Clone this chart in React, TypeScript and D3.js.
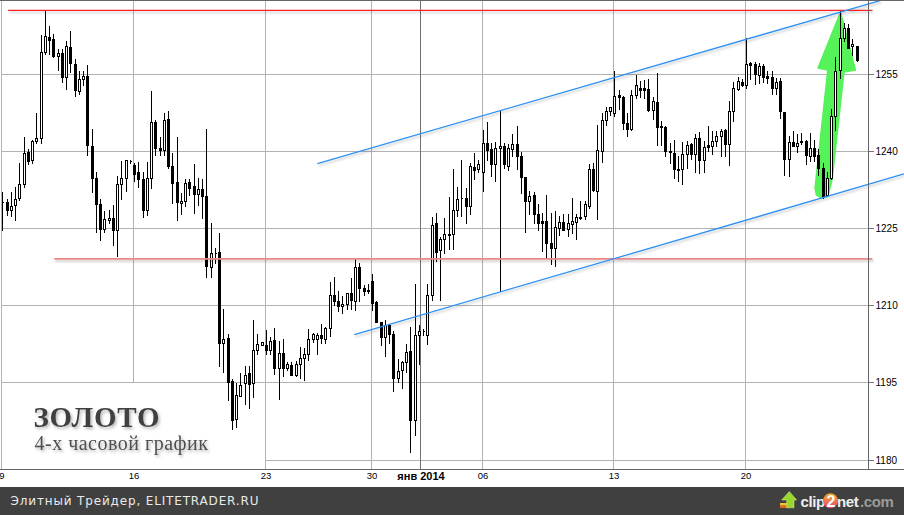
import React, { useEffect, useRef } from 'react';
import * as d3 from 'd3';

const W = 904;
const H = 515;

// gold, 4h candles
const highs = [
  1232.0, 1230.6, 1232.0, 1233.0, 1237.7, 1242.6, 1240.3, 1242.2, 1247.4, 1262.6,
  1267.3, 1264.3, 1262.8, 1259.7, 1259.7, 1261.3, 1263.2, 1257.9, 1255.6, 1255.6,
  1256.6, 1244.3, 1235.8, 1230.6, 1228.4, 1228.6, 1229.4, 1235.1, 1238.1, 1238.2,
  1238.3, 1237.7, 1237.8, 1235.8, 1237.8, 1251.7, 1245.9, 1242.6, 1247.3, 1247.7,
  1239.5, 1242.6, 1231.9, 1234.6, 1234.6, 1237.4, 1234.8, 1234.5, 1244.2, 1226.0,
  1221.1, 1224.0, 1209.3, 1204.5, 1195.6, 1194.8, 1196.8, 1198.1, 1198.2, 1207.1,
  1204.5, 1202.9, 1205.1, 1203.8, 1205.6, 1203.0, 1203.5, 1199.0, 1199.0, 1199.2,
  1201.9, 1201.6, 1205.4, 1204.7, 1204.7, 1206.3, 1205.8, 1214.6, 1215.5, 1212.8,
  1211.8, 1212.4, 1215.2, 1219.0, 1218.3, 1213.9, 1214.1, 1216.0, 1210.8, 1206.7,
  1207.1, 1206.3, 1205.0, 1199.5, 1199.2, 1202.5, 1205.8, 1214.1, 1206.1, 1205.4,
  1214.2, 1227.2, 1228.0, 1223.3, 1226.9, 1231.0, 1236.4, 1233.0, 1238.3, 1232.8,
  1237.7, 1239.6, 1238.3, 1244.0, 1245.7, 1241.6, 1241.8, 1247.9, 1241.6, 1241.3,
  1243.3, 1244.8, 1239.8, 1235.0, 1232.2, 1232.0, 1229.6, 1228.0, 1231.4, 1228.0,
  1228.4, 1227.3, 1227.7, 1227.7, 1230.9, 1227.8, 1230.3, 1230.3, 1237.5, 1237.7,
  1245.1, 1247.4, 1248.6, 1248.6, 1255.5, 1251.9, 1250.7, 1247.4, 1251.9, 1254.7,
  1253.6, 1253.7, 1253.9, 1250.5, 1255.1, 1245.8, 1244.8, 1241.6, 1242.2, 1239.0,
  1241.7, 1241.9, 1241.6, 1243.2, 1243.7, 1241.9, 1244.9, 1243.8, 1243.8, 1244.3,
  1244.2, 1249.7, 1253.4, 1254.3, 1253.9, 1262.0, 1257.3, 1257.3, 1257.1, 1256.8,
  1255.5, 1255.6, 1254.2, 1254.2, 1247.6, 1242.9, 1243.8, 1243.3, 1243.5, 1242.1,
  1243.5, 1242.2, 1240.3, 1237.7, 1235.8, 1248.1, 1258.3, 1267.2, 1264.9, 1264.6,
  1261.8, 1260.4,
];

const lows = [
  1224.6, 1227.5, 1227.3, 1226.6, 1230.4, 1232.9, 1237.5, 1237.7, 1241.6, 1241.5,
  1258.8, 1258.8, 1258.2, 1255.8, 1253.4, 1252.0, 1255.3, 1250.7, 1251.1, 1252.8,
  1239.2, 1232.0, 1224.2, 1222.7, 1224.2, 1225.9, 1221.8, 1219.6, 1230.6, 1232.2,
  1237.6, 1234.1, 1233.0, 1227.1, 1227.5, 1232.7, 1239.1, 1239.1, 1239.1, 1236.7,
  1229.8, 1226.6, 1227.7, 1229.3, 1231.4, 1227.9, 1229.4, 1226.9, 1215.4, 1215.4,
  1218.3, 1198.1, 1197.0, 1191.6, 1185.9, 1186.4, 1192.4, 1190.9, 1190.1, 1192.2,
  1200.5, 1202.2, 1200.5, 1200.5, 1196.6, 1191.7, 1196.2, 1197.4, 1196.4, 1196.2,
  1195.9, 1195.5, 1199.3, 1202.9, 1200.5, 1202.6, 1202.6, 1204.1, 1210.0, 1208.9,
  1208.4, 1209.2, 1209.2, 1209.0, 1210.9, 1211.9, 1212.4, 1209.1, 1206.7, 1202.2,
  1200.1, 1202.6, 1193.3, 1195.1, 1193.9, 1197.0, 1181.5, 1184.8, 1198.5, 1204.3,
  1202.4, 1211.1, 1218.6, 1211.0, 1220.1, 1220.9, 1220.9, 1227.3, 1227.3, 1226.0,
  1227.7, 1234.5, 1235.9, 1232.2, 1238.3, 1235.1, 1234.1, 1212.8, 1236.7, 1236.3,
  1239.0, 1236.4, 1231.9, 1224.2, 1227.7, 1225.9, 1224.6, 1220.5, 1219.4, 1218.1,
  1217.6, 1223.6, 1224.6, 1223.4, 1224.1, 1222.9, 1226.8, 1226.8, 1228.9, 1232.2,
  1226.7, 1237.8, 1245.0, 1246.9, 1246.8, 1248.2, 1244.2, 1242.9, 1244.0, 1250.3,
  1250.5, 1250.2, 1247.7, 1246.1, 1241.1, 1241.1, 1239.0, 1237.7, 1234.8, 1234.1,
  1233.5, 1236.7, 1238.5, 1235.8, 1235.6, 1235.9, 1239.9, 1239.3, 1240.9, 1239.0,
  1239.0, 1237.3, 1245.8, 1251.9, 1252.6, 1252.3, 1253.9, 1252.9, 1253.1, 1253.4,
  1253.2, 1251.0, 1251.1, 1246.3, 1235.3, 1235.1, 1240.9, 1239.8, 1241.3, 1237.4,
  1238.0, 1238.0, 1235.4, 1230.8, 1231.2, 1234.5, 1244.0, 1254.1, 1261.3, 1259.9,
  1258.6, 1257.4,
];

const opens = [
  1230.1, 1230.1, 1228.5, 1229.5, 1230.8, 1233.6, 1239.8, 1238.2, 1241.9, 1242.4,
  1259.3, 1262.2, 1261.8, 1258.4, 1259.1, 1254.4, 1260.2, 1256.9, 1251.6, 1254.0,
  1254.6, 1241.0, 1234.8, 1229.7, 1224.8, 1226.6, 1227.0, 1224.7, 1233.6, 1234.7,
  1238.1, 1237.3, 1235.8, 1234.6, 1228.5, 1234.7, 1245.7, 1240.6, 1240.2, 1246.1,
  1237.1, 1234.0, 1229.9, 1230.3, 1233.9, 1233.1, 1231.6, 1232.5, 1231.3, 1217.5,
  1220.2, 1220.3, 1202.7, 1203.7, 1195.3, 1187.9, 1192.4, 1194.8, 1196.8, 1194.8,
  1201.3, 1202.2, 1202.3, 1201.3, 1203.2, 1197.8, 1200.8, 1197.8, 1198.3, 1196.5,
  1198.5, 1199.8, 1200.6, 1203.4, 1203.5, 1204.3, 1203.5, 1205.6, 1212.0, 1210.9,
  1209.9, 1210.2, 1212.3, 1210.9, 1217.5, 1213.4, 1213.0, 1214.8, 1210.7, 1206.7,
  1203.8, 1206.1, 1204.5, 1195.9, 1197.4, 1199.0, 1201.2, 1187.7, 1204.3, 1204.9,
  1204.2, 1211.9, 1225.9, 1220.7, 1222.9, 1223.9, 1223.9, 1228.6, 1230.9, 1230.9,
  1229.2, 1236.9, 1236.5, 1235.8, 1241.6, 1240.3, 1237.5, 1240.6, 1241.0, 1237.0,
  1240.4, 1241.4, 1239.0, 1235.0, 1230.3, 1231.4, 1227.7, 1226.3, 1226.3, 1222.0,
  1221.2, 1225.1, 1226.2, 1224.9, 1225.8, 1226.2, 1227.2, 1227.3, 1229.3, 1236.4,
  1232.2, 1240.0, 1246.0, 1247.7, 1247.3, 1250.8, 1250.5, 1245.5, 1244.2, 1250.9,
  1252.3, 1252.3, 1252.1, 1247.9, 1249.4, 1244.8, 1244.6, 1239.9, 1239.6, 1236.5,
  1236.5, 1239.3, 1241.3, 1239.3, 1242.4, 1238.2, 1241.1, 1240.9, 1242.0, 1242.8,
  1244.0, 1241.4, 1247.8, 1252.1, 1253.4, 1252.7, 1257.1, 1256.9, 1254.7, 1256.4,
  1254.5, 1254.4, 1252.3, 1253.5, 1247.6, 1238.5, 1241.7, 1240.9, 1242.0, 1242.0,
  1239.0, 1240.5, 1239.2, 1236.7, 1231.5, 1234.7, 1246.8, 1255.7, 1262.0, 1263.8,
  1260.4, 1260.4,
];

const closes = [
  1230.1, 1228.5, 1229.3, 1230.7, 1233.6, 1239.6, 1238.0, 1242.0, 1242.4, 1259.3,
  1262.4, 1261.5, 1258.4, 1259.1, 1254.4, 1260.4, 1257.1, 1251.8, 1254.0, 1254.6,
  1241.1, 1234.7, 1229.7, 1224.8, 1226.8, 1227.0, 1224.6, 1233.6, 1234.8, 1238.2,
  1238.1, 1235.5, 1234.5, 1228.6, 1234.7, 1245.7, 1240.6, 1240.2, 1245.9, 1237.0,
  1233.8, 1230.0, 1230.3, 1233.8, 1232.7, 1231.6, 1232.5, 1231.2, 1217.6, 1220.2,
  1220.1, 1202.7, 1203.5, 1195.1, 1187.8, 1192.5, 1194.6, 1196.5, 1194.7, 1201.4,
  1202.5, 1202.9, 1201.3, 1203.0, 1197.8, 1200.8, 1197.8, 1198.5, 1196.5, 1198.6,
  1199.8, 1200.6, 1203.5, 1204.5, 1204.3, 1203.6, 1205.6, 1212.0, 1210.8, 1209.9,
  1210.3, 1212.3, 1211.0, 1217.5, 1213.3, 1212.8, 1212.8, 1210.4, 1206.7, 1203.8,
  1206.1, 1204.4, 1195.9, 1197.3, 1198.9, 1201.0, 1187.7, 1204.3, 1204.9, 1204.9,
  1211.9, 1225.5, 1220.4, 1222.9, 1223.9, 1223.6, 1228.6, 1230.7, 1230.9, 1229.2,
  1237.1, 1236.3, 1237.5, 1241.6, 1240.2, 1237.4, 1240.6, 1241.0, 1237.4, 1240.6,
  1241.4, 1239.0, 1235.0, 1230.3, 1231.2, 1227.7, 1226.0, 1225.9, 1222.0, 1221.1,
  1225.3, 1226.2, 1224.7, 1225.9, 1226.4, 1227.2, 1226.9, 1229.6, 1236.4, 1232.3,
  1240.1, 1245.9, 1247.7, 1248.6, 1250.7, 1250.5, 1245.5, 1244.3, 1250.9, 1252.7,
  1251.8, 1251.8, 1247.9, 1249.6, 1244.7, 1244.6, 1240.0, 1239.8, 1236.5, 1236.3,
  1239.3, 1241.2, 1239.3, 1242.4, 1238.2, 1240.8, 1240.8, 1242.0, 1242.8, 1243.9,
  1241.3, 1247.8, 1252.3, 1253.6, 1252.8, 1256.9, 1256.7, 1254.9, 1256.4, 1254.4,
  1254.2, 1252.3, 1253.4, 1247.7, 1238.5, 1241.8, 1240.9, 1241.6, 1241.7, 1239.2,
  1240.5, 1239.0, 1236.7, 1231.2, 1234.8, 1246.8, 1255.6, 1262.0, 1263.8, 1260.0,
  1260.8, 1257.6,
];

const priceTicks = [1180, 1195, 1210, 1225, 1240, 1255];

// candle index of each date label
const dateTickIndex = [0, 31, 62, 87, 98.5, 113, 144, 175];
const dateTickLabel = ['9', '16', '23', '30', 'янв 2014', '06', '13', '20'];
const monthTick = 98.5;

// hand drawn lines: [candle index, price]
const redLines: [number, number][][] = [
  [[1.1, 1267.4], [204.5, 1267.4]],
  [[12.0, 1219.1], [204.5, 1219.1]],
];
const blueLines: [number, number][][] = [
  [[73.9, 1237.6], [206.3, 1269.3]],
  [[82.6, 1204.4], [211.9, 1235.6]],
];
const arrowOutline: [number, number][] = [
  [191.0, 1232.9], [191.3, 1231.6], [192.4, 1230.9], [194.0, 1231.2], [195.0, 1234.5],
  [197.8, 1255.4], [200.5, 1255.8], [197.0, 1267.0], [191.7, 1256.2], [194.0, 1255.8],
];

export default function App() {
  const svgRef = useRef<SVGSVGElement>(null);

  useEffect(() => {
    if (!svgRef.current) return;
    const svg = d3.select(svgRef.current);
    svg.selectAll('*').remove();

    const x = d3.scaleLinear().domain([0, 201]).range([2.8, 857.05]);
    const y = d3.scaleLinear().domain([1180, 1255]).range([460.15, 74.15]);
    const cx = (i: number) => Math.floor(x(i)) + 0.5;
    const py = (p: number) => Math.floor(y(p)) + 0.5;

    const defs = svg.append('defs');
    const filter = (id: string) =>
      defs.append('filter').attr('id', id)
        .attr('filterUnits', 'userSpaceOnUse')
        .attr('x', 0).attr('y', 0).attr('width', W).attr('height', H);
    filter('lineShadow').append('feDropShadow')
      .attr('dx', 1).attr('dy', 2).attr('stdDeviation', 1.2)
      .attr('flood-color', '#000').attr('flood-opacity', 0.22);
    filter('textShadow').append('feDropShadow')
      .attr('dx', 1.5).attr('dy', 2).attr('stdDeviation', 1.5)
      .attr('flood-color', '#000').attr('flood-opacity', 0.3);
    filter('softEdge').append('feGaussianBlur').attr('stdDeviation', 0.5);

    const coin = defs.append('linearGradient').attr('id', 'coin')
      .attr('x1', 0).attr('y1', 0).attr('x2', 0).attr('y2', 1);
    coin.append('stop').attr('offset', '0%').attr('stop-color', '#f5a81c');
    coin.append('stop').attr('offset', '100%').attr('stop-color', '#e8487a');

    svg.append('rect').attr('width', W).attr('height', H).attr('fill', '#fff');

    // grid
    const grid = svg.append('g').attr('shape-rendering', 'crispEdges');
    grid.selectAll('line.h').data(priceTicks).enter().append('line')
      .attr('class', 'h')
      .attr('x1', 1).attr('x2', 868)
      .attr('y1', d => py(d)).attr('y2', d => py(d))
      .attr('stroke', '#b2b2b2');
    grid.selectAll('line.v').data(dateTickIndex).enter().append('line')
      .attr('class', 'v')
      .attr('x1', d => cx(d) - 1).attr('x2', d => cx(d) - 1)
      .attr('y1', 1).attr('y2', 469)
      .attr('stroke', d => (d === monthTick ? '#707070' : '#b2b2b2'));

    // caption box hides the grid under the title
    svg.append('rect').attr('x', 2).attr('y', 383).attr('width', 263).attr('height', 86).attr('fill', '#fff');

    const lineGen = d3.line<[number, number]>().x(d => x(d[0]) + 0.5).y(d => y(d[1]));

    // green arrow sits under the candles
    svg.append('path')
      .attr('d', lineGen(arrowOutline) + 'Z')
      .attr('fill', '#55f25a')
      .attr('stroke', '#55f25a')
      .attr('stroke-width', 1.5)
      .attr('stroke-linejoin', 'round')
      .attr('filter', 'url(#softEdge)');

    // candles
    const idx = d3.range(highs.length);
    const candles = svg.append('g').attr('shape-rendering', 'crispEdges');
    candles.selectAll('line').data(idx).enter().append('line')
      .attr('x1', i => cx(i)).attr('x2', i => cx(i))
      .attr('y1', i => py(highs[i]) - 0.5).attr('y2', i => py(lows[i]) + 0.5)
      .attr('stroke', '#000');
    candles.selectAll('path').data(idx).enter().append('path')
      .attr('d', i => {
        const top = py(Math.max(opens[i], closes[i]));
        const bottom = py(Math.min(opens[i], closes[i]));
        const p = d3.path();
        p.rect(cx(i) - 1, top, 2, bottom - top);
        return p.toString();
      })
      .attr('fill', i => (closes[i] > opens[i] ? '#fff' : '#000'))
      .attr('stroke', '#000');

    // annotations
    const notes = svg.append('g').attr('fill', 'none').attr('filter', 'url(#lineShadow)');
    notes.selectAll('path.red').data(redLines).enter().append('path')
      .attr('class', 'red')
      .attr('d', d => lineGen(d))
      .attr('stroke', (_, i) => (i === 0 ? '#ff2020' : '#e98888'))
      .attr('stroke-width', (_, i) => (i === 0 ? 1.2 : 1.6));
    notes.selectAll('path.blue').data(blueLines).enter().append('path')
      .attr('class', 'blue')
      .attr('d', d => lineGen(d))
      .attr('stroke', '#2f90f2')
      .attr('stroke-width', 1.3);

    // frame + axes
    const axisFont = '"Liberation Sans", Arial, sans-serif';
    const yAxis = svg.append('g')
      .attr('transform', 'translate(868.5,0)')
      .call(d3.axisRight(y).tickValues(priceTicks).tickFormat(d3.format('d')).tickSize(5).tickPadding(2).offset(0));
    yAxis.selectAll('.tick').attr('transform', (d: any) => `translate(0,${py(d)})`);
    yAxis.selectAll('.domain').remove();
    yAxis.selectAll('line').attr('stroke', '#777').attr('shape-rendering', 'crispEdges');
    yAxis.selectAll('text')
      .attr('fill', '#000').attr('font-family', axisFont).attr('font-size', 10);

    const xAxis = svg.append('g')
      .attr('transform', 'translate(0,469.5)')
      .call(d3.axisBottom(x)
        .tickValues(dateTickIndex)
        .tickSize(0)
        .tickPadding(3)
        .offset(0)
        .tickFormat(d => dateTickLabel[dateTickIndex.indexOf(d as number)]));
    xAxis.selectAll('.tick').attr('transform', (d: any) => `translate(${cx(d) - 0.5},0)`);
    xAxis.selectAll('.domain').remove();
    xAxis.selectAll('text')
      .attr('fill', '#000').attr('font-family', axisFont)
      .attr('font-size', (d: any) => (d === monthTick ? 11 : 9.5))
      .attr('font-weight', (d: any) => (d === monthTick ? 'bold' : 'normal'));

    const frame = svg.append('g').attr('stroke', '#666').attr('shape-rendering', 'crispEdges');
    frame.append('line').attr('x1', 0).attr('x2', W).attr('y1', 0.5).attr('y2', 0.5);
    frame.append('line').attr('x1', 0).attr('x2', W).attr('y1', 469.5).attr('y2', 469.5);
    frame.append('line').attr('x1', 868.5).attr('x2', 868.5).attr('y1', 0).attr('y2', 469);

    // title
    const title = svg.append('g')
      .attr('font-family', '"Liberation Serif", "Times New Roman", serif')
      .attr('filter', 'url(#textShadow)');
    title.append('text').attr('x', 33.5).attr('y', 427)
      .attr('font-size', 29).attr('font-weight', 'bold').attr('letter-spacing', 0.8)
      .attr('fill', '#3f3f3f').text('ЗОЛОТО');
    title.append('text').attr('x', 34.5).attr('y', 450)
      .attr('font-size', 20).attr('letter-spacing', 0.5)
      .attr('fill', '#505050').text('4-х часовой график');

    // footer bar
    svg.append('rect').attr('x', 0).attr('y', 487).attr('width', W).attr('height', 28).attr('fill', '#404040');
    svg.append('text').attr('x', 10.5).attr('y', 505)
      .attr('font-family', '"DejaVu Sans", Verdana, sans-serif')
      .attr('font-size', 12).attr('fill', '#eaeaea')
      .attr('textLength', 248).attr('lengthAdjust', 'spacing')
      .text('Элитный Трейдер, ELITETRADER.RU');

    // clip2net logo
    const logo = svg.append('g');
    logo.append('rect').attr('x', 780).attr('y', 505.5).attr('width', 9).attr('height', 2.5).attr('fill', '#e8641c');
    logo.append('rect').attr('x', 780).attr('y', 503).attr('width', 9).attr('height', 2.5).attr('fill', '#f0c030');
    logo.append('path').attr('d', 'M789.3 491.5 L796.7 500 L794 500 L794 507.8 L786.7 507.8 L786.7 500 L781.7 500 Z')
      .attr('fill', '#9ad62e').attr('stroke', '#d8f080').attr('stroke-width', 0.5);
    const logoFont = '"Liberation Sans", Arial, sans-serif';
    const logoText = (tx: number, label: string, fill: string, extra = 0) =>
      logo.append('text').attr('x', tx).attr('y', 506.5)
        .attr('font-family', logoFont).attr('font-size', 15 + extra).attr('font-weight', 'bold')
        .attr('letter-spacing', -0.4)
        .attr('fill', fill).text(label);
    logoText(800.5, 'clip', '#eeeeee');
    logo.append('circle').attr('cx', 830.5).attr('cy', 500.7).attr('r', 7.5).attr('fill', 'url(#coin)');
    logoText(826.5, '2', '#ffffff', 1);
    logoText(837, 'net', '#eeeeee');
    logoText(860, '.com', '#9a9a9a');
  }, []);

  return (
    <svg
      ref={svgRef}
      width={W}
      height={H}
      style={{ position: 'absolute', top: 0, left: 0, display: 'block' }}
    />
  );
}
